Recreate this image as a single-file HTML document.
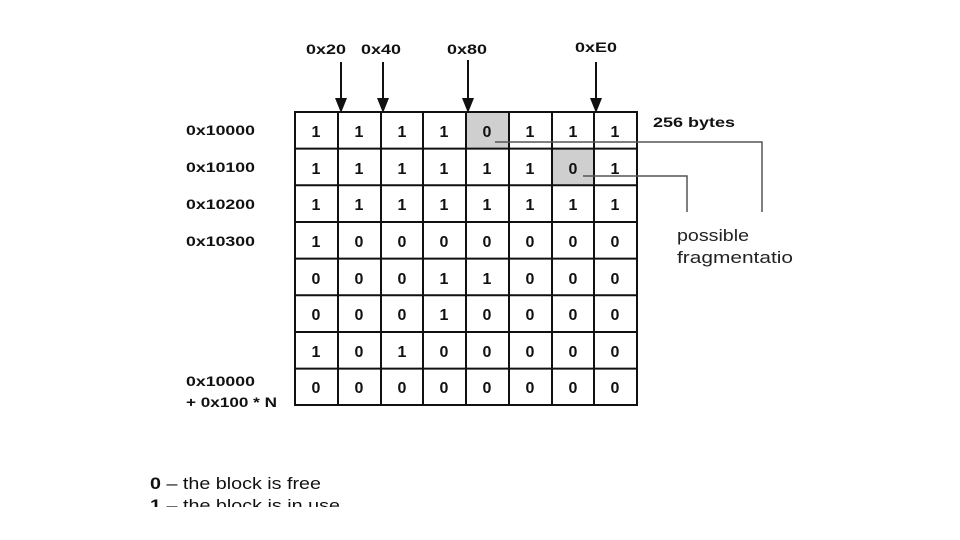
<!DOCTYPE html>
<html><head><style>
body{margin:0;width:960px;height:540px;background:#fff;overflow:hidden;position:relative;font-family:"Liberation Sans",Arial,sans-serif;}
</style></head><body>
<svg width="960" height="540" style="position:absolute;left:0;top:0">
<rect x="466" y="112" width="43" height="36.6" fill="#cfcfcf"/>
<rect x="552" y="148.6" width="42" height="36.7" fill="#cfcfcf"/>
<g stroke="#111" stroke-width="2" fill="none">
<rect x="295" y="112" width="342" height="293"/>
<line x1="338" y1="112" x2="338" y2="405"/><line x1="381" y1="112" x2="381" y2="405"/><line x1="423" y1="112" x2="423" y2="405"/><line x1="466" y1="112" x2="466" y2="405"/><line x1="509" y1="112" x2="509" y2="405"/><line x1="552" y1="112" x2="552" y2="405"/><line x1="594" y1="112" x2="594" y2="405"/>
<line x1="295" y1="148.6" x2="637" y2="148.6"/><line x1="295" y1="185.3" x2="637" y2="185.3"/><line x1="295" y1="222" x2="637" y2="222"/><line x1="295" y1="258.6" x2="637" y2="258.6"/><line x1="295" y1="295.3" x2="637" y2="295.3"/><line x1="295" y1="332" x2="637" y2="332"/><line x1="295" y1="368.6" x2="637" y2="368.6"/>
<line x1="341" y1="62" x2="341" y2="100"/>
<line x1="383" y1="62" x2="383" y2="100"/>
<line x1="468" y1="60" x2="468" y2="100"/>
<line x1="596" y1="62" x2="596" y2="100"/>
</g>
<g fill="#111">
<polygon points="335,98 347,98 341,113"/>
<polygon points="377,98 389,98 383,113"/>
<polygon points="462,98 474,98 468,113"/>
<polygon points="590,98 602,98 596,113"/>
</g>
<g stroke="#555" stroke-width="1.5" fill="none">
<polyline points="495,142 762,142 762,212"/>
<polyline points="583,176 687,176 687,212"/>
</g>
<g font-family="Liberation Sans,Arial,sans-serif" font-weight="bold" font-size="16" text-anchor="middle" fill="#111">
<text x="316" y="137">1</text><text x="359" y="137">1</text><text x="402" y="137">1</text><text x="444" y="137">1</text><text x="487" y="137">0</text><text x="530" y="137">1</text><text x="573" y="137">1</text><text x="615" y="137">1</text>
<text x="316" y="174">1</text><text x="359" y="174">1</text><text x="402" y="174">1</text><text x="444" y="174">1</text><text x="487" y="174">1</text><text x="530" y="174">1</text><text x="573" y="174">0</text><text x="615" y="174">1</text>
<text x="316" y="210">1</text><text x="359" y="210">1</text><text x="402" y="210">1</text><text x="444" y="210">1</text><text x="487" y="210">1</text><text x="530" y="210">1</text><text x="573" y="210">1</text><text x="615" y="210">1</text>
<text x="316" y="247">1</text><text x="359" y="247">0</text><text x="402" y="247">0</text><text x="444" y="247">0</text><text x="487" y="247">0</text><text x="530" y="247">0</text><text x="573" y="247">0</text><text x="615" y="247">0</text>
<text x="316" y="284">0</text><text x="359" y="284">0</text><text x="402" y="284">0</text><text x="444" y="284">1</text><text x="487" y="284">1</text><text x="530" y="284">0</text><text x="573" y="284">0</text><text x="615" y="284">0</text>
<text x="316" y="320">0</text><text x="359" y="320">0</text><text x="402" y="320">0</text><text x="444" y="320">1</text><text x="487" y="320">0</text><text x="530" y="320">0</text><text x="573" y="320">0</text><text x="615" y="320">0</text>
<text x="316" y="357">1</text><text x="359" y="357">0</text><text x="402" y="357">1</text><text x="444" y="357">0</text><text x="487" y="357">0</text><text x="530" y="357">0</text><text x="573" y="357">0</text><text x="615" y="357">0</text>
<text x="316" y="393">0</text><text x="359" y="393">0</text><text x="402" y="393">0</text><text x="444" y="393">0</text><text x="487" y="393">0</text><text x="530" y="393">0</text><text x="573" y="393">0</text><text x="615" y="393">0</text>
</g>
<g font-family="Liberation Sans,Arial,sans-serif" font-weight="bold" font-size="14" fill="#111">
<text x="306" y="54" textLength="40" lengthAdjust="spacingAndGlyphs">0x20</text><text x="361" y="54" textLength="40" lengthAdjust="spacingAndGlyphs">0x40</text><text x="447" y="54" textLength="40" lengthAdjust="spacingAndGlyphs">0x80</text><text x="575" y="52" textLength="42" lengthAdjust="spacingAndGlyphs">0xE0</text>
<text x="653" y="127" textLength="82" lengthAdjust="spacingAndGlyphs">256 bytes</text>
<text x="186" y="135" textLength="69" lengthAdjust="spacingAndGlyphs">0x10000</text><text x="186" y="172" textLength="69" lengthAdjust="spacingAndGlyphs">0x10100</text><text x="186" y="209" textLength="69" lengthAdjust="spacingAndGlyphs">0x10200</text><text x="186" y="246" textLength="69" lengthAdjust="spacingAndGlyphs">0x10300</text>
<text x="186" y="386" textLength="69" lengthAdjust="spacingAndGlyphs">0x10000</text><text x="186" y="407" textLength="91" lengthAdjust="spacingAndGlyphs">+ 0x100 * N</text>
</g>
<g font-family="Liberation Sans,Arial,sans-serif" font-size="17" fill="#222">
<text x="677" y="241" textLength="72" lengthAdjust="spacingAndGlyphs">possible</text>
<text x="677" y="263" textLength="116" lengthAdjust="spacingAndGlyphs">fragmentatio</text>
</g>
<g font-family="Liberation Sans,Arial,sans-serif" font-size="17" fill="#111">
<text x="150" y="489" textLength="171" lengthAdjust="spacingAndGlyphs"><tspan font-weight="bold">0</tspan> – the block is free</text>
<text x="150" y="511" textLength="190" lengthAdjust="spacingAndGlyphs"><tspan font-weight="bold">1</tspan> – the block is in use</text>
</g>
<rect x="0" y="507" width="960" height="33" fill="#fff"/>
</svg>
</body></html>
